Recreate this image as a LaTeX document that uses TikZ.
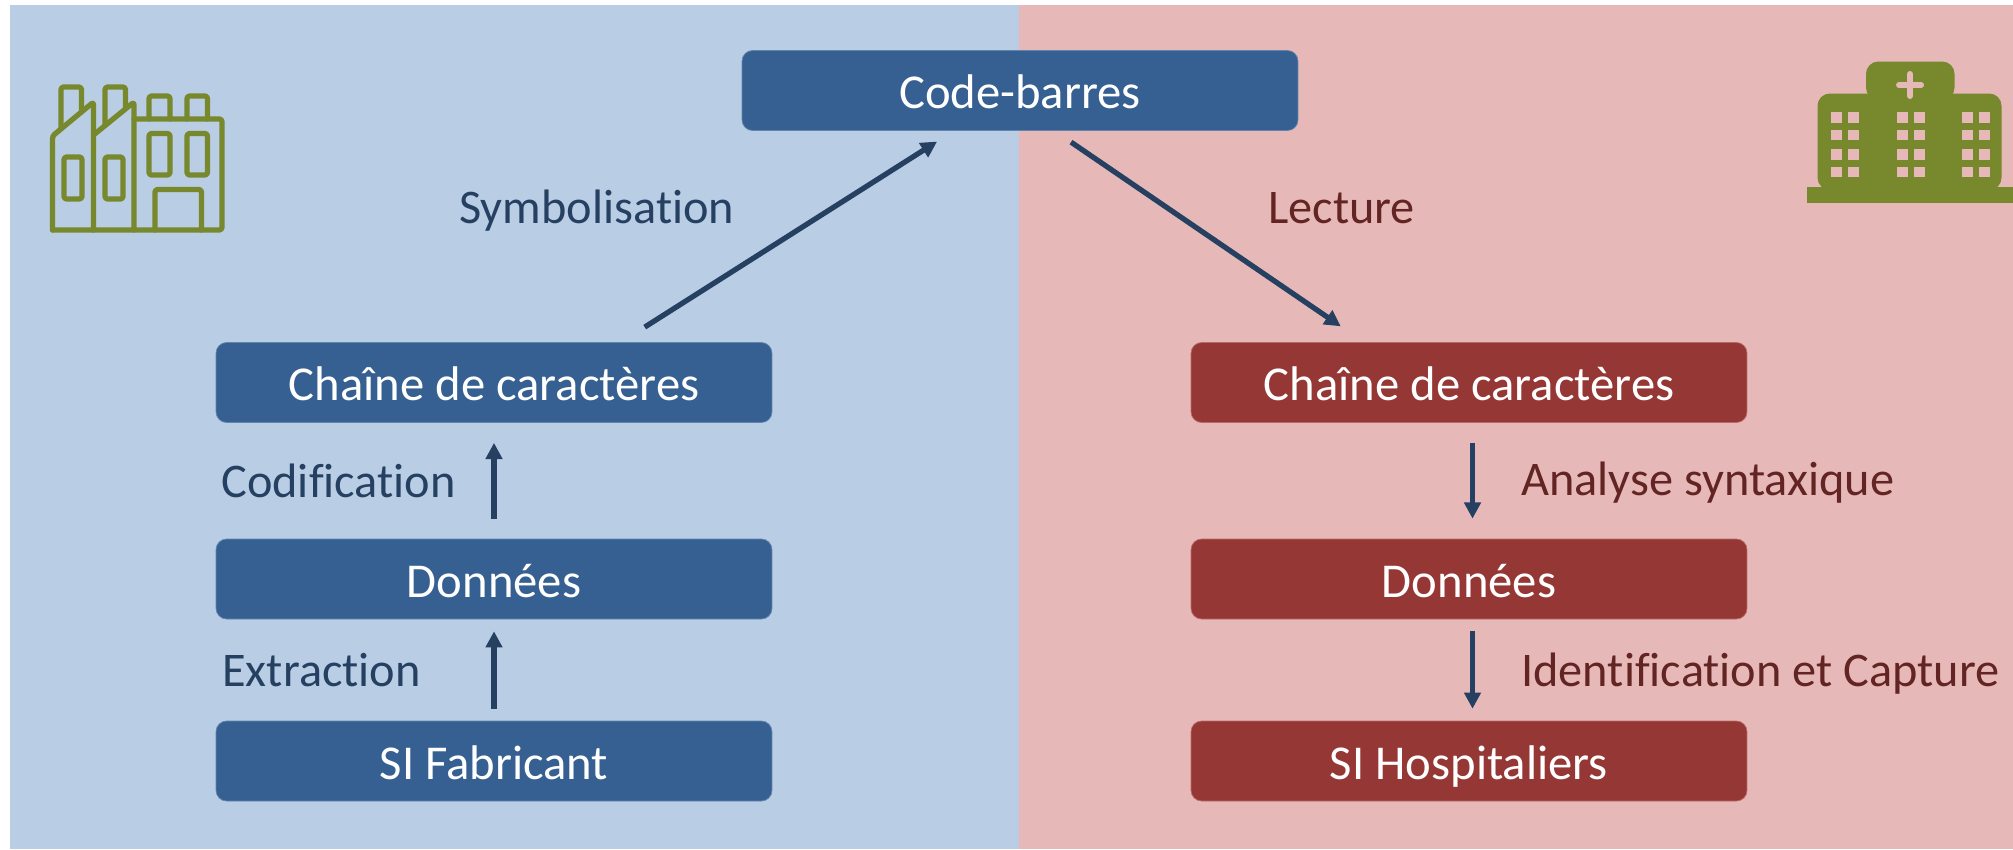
\documentclass[tikz,border=0pt]{standalone}
\usepackage{fontspec}
\setmainfont{Carlito}[Ligatures=NoCommon]
\usepackage{tikz}
\usetikzlibrary{arrows.meta}
\usepackage{xcolor}
\definecolor{panelblue}{HTML}{B9CDE5}
\definecolor{panelred}{HTML}{E6B9B8}
\definecolor{boxblue}{HTML}{366092}
\definecolor{boxred}{HTML}{953735}
\definecolor{edgeblue}{HTML}{6285AE}
\definecolor{edgered}{HTML}{B96A68}
\definecolor{arrowblue}{HTML}{254061}
\definecolor{textred}{HTML}{632523}
\definecolor{olive}{HTML}{77882D}

\begin{document}
\begin{tikzpicture}[
                x=0.02cm,
                y=-0.02cm,
                box/.style={rectangle, rounded corners=6pt, minimum width=11.12cm, minimum height=1.6cm,
                    text=white, inner sep=0pt, text height=20.6pt, text depth=0pt,
                    font=\fontsize{27.7}{32}\selectfont, line width=0.4pt},
                bluebox/.style={box, fill=boxblue, draw=edgeblue},
                redbox/.style={box, fill=boxred, draw=edgered},
                bluelabel/.style={anchor=base west, inner sep=0pt, text=arrowblue, font=\fontsize{27.5}{32}\selectfont},
                redlabel/.style={anchor=base west, inner sep=0pt, text=textred, font=\fontsize{27.5}{32}\selectfont},
                arrow/.style={-{Triangle[width=9.2pt, length=9.2pt]}, draw=arrowblue, line width=3pt, shorten <=11.4pt, shorten >=11.4pt},
                factory/.style={draw=olive, line width=3pt, line join=round, line cap=round, rounded corners=1.5pt}
            ]
                \useasboundingbox (0, 0) rectangle (2013, 849);
                \fill[panelblue] (10, 5) rectangle (1019, 849);
                \fill[panelred] (1019, 5) rectangle (2013, 849);

                \node[bluebox] (0) at (1020, 90.5) {Code-barres};
                \node[bluebox] (1) at (494, 382.5) {Chaîne de caractères};
                \node[bluebox] (2) at (494, 579) {Données};
                \node[bluebox] (3) at (494, 761) {SI Fabricant};
                \node[redbox] (4) at (1469, 382.5) {Chaîne de caractères};
                \node[redbox] (5) at (1469, 579) {Données};
                \node[redbox] (6) at (1469, 761) {SI Hospitaliers};

                \node[bluelabel] (7) at (459, 223) {Symbolisation};
                \node[bluelabel] (8) at (221, 497) {Codification};
                \node[bluelabel] (9) at (222, 686) {Extraction};
                \node[redlabel] (10) at (1268, 223) {Lecture};
                \node[redlabel] (11) at (1521, 495) {Analyse syntaxique};
                \node[redlabel] (12) at (1521, 686) {Identification et Capture};

                \path (3.north) edge[arrow, shorten <=6.8pt, shorten >=6.8pt] (2.south)
                (2.north) edge[arrow] (1.south)
                ([xshift=2.54cm]1.north) edge[arrow, shorten <=16pt] ([xshift=-1.32cm]0.south)
                ([xshift=0.69cm]0.south) edge[arrow, shorten >=16pt] ([xshift=-2.1cm]4.north)
                ([xshift=0.07cm]4.south) edge[arrow] ([xshift=0.07cm]5.north)
                ([xshift=0.07cm]5.south) edge[arrow, shorten <=6.8pt, shorten >=6.8pt] ([xshift=0.07cm]6.north);

                \draw[factory] (52.5, 230) -- (222, 230) -- (222, 119) -- (134, 119);
                \draw[factory] (52.5, 230) -- (52.5, 136) -- (93.5, 102) -- (93.5, 230);
                \draw[factory] (93.5, 135) -- (134, 102) -- (134, 230);
                \draw[factory] (61, 127) -- (61, 87) -- (81.5, 87) -- (81.5, 111);
                \draw[factory] (105, 125) -- (105, 87) -- (125.5, 87) -- (125.5, 107);
                \draw[factory] (149, 119) -- (149, 96) -- (170, 96) -- (170, 119);
                \draw[factory] (187, 119) -- (187, 96) -- (207.5, 96) -- (207.5, 119);
                \draw[factory] (64, 157) rectangle (82, 199);
                \draw[factory] (105, 157) rectangle (123, 199);
                \draw[factory] (149, 133.5) rectangle (170, 175);
                \draw[factory] (187, 133.5) rectangle (207.5, 175);
                \draw[factory] (155, 230) -- (155, 189.5) -- (201.5, 189.5) -- (201.5, 230);

                \fill[olive] (1806.5, 186.5) rectangle (2013, 203);
                \fill[olive, rounded corners=7pt] (1817.5, 190) -- (1817.5, 93.5) -- (2001.5, 93.5) -- (2001.5, 190) -- cycle;
                \fill[olive, rounded corners=7pt] (1866, 100) -- (1866, 61.5) -- (1954.5, 61.5) -- (1954.5, 100) -- cycle;
                \draw[panelred, line width=3.4pt, line cap=round] (1899, 85) -- (1921, 85) (1910, 74) -- (1910, 96);
                \foreach \col in {1830.5, 1847.5, 1896.5, 1913.5, 1962, 1979} {
                    \foreach \row in {112, 129.5, 149, 166.5} {
                        \fill[panelred] (\col, \row) rectangle +(11.2, 10.8);
                    }
                }
            \end{tikzpicture}
\end{document}
